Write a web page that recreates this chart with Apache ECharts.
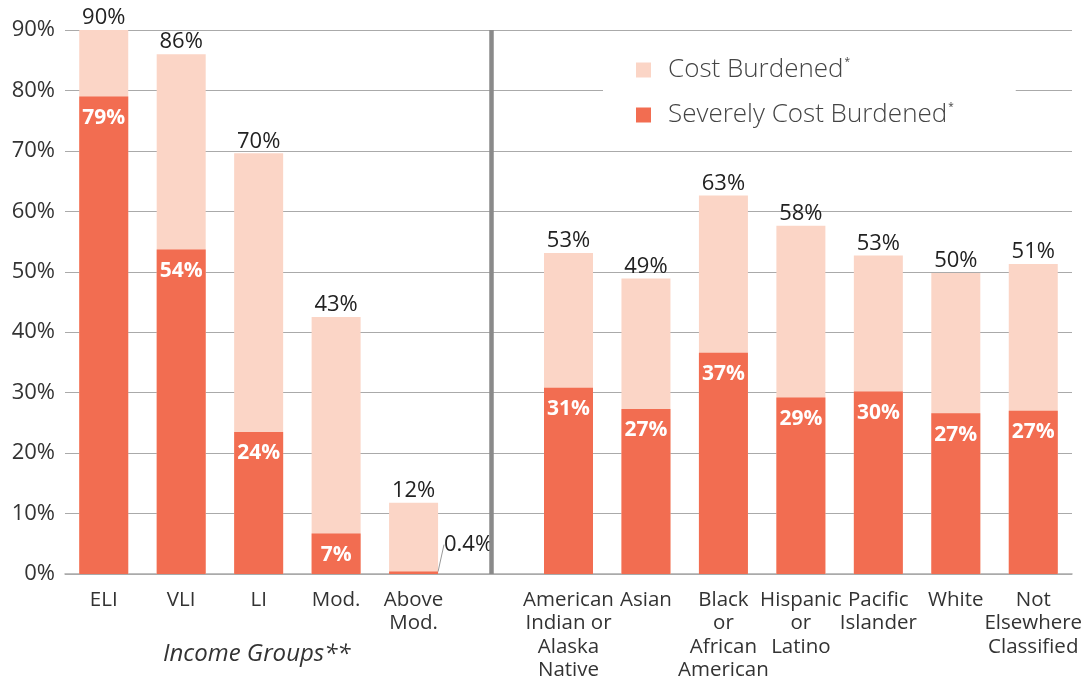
<!DOCTYPE html>
<html><head><meta charset="utf-8">
<script src="https://cdn.jsdelivr.net/npm/echarts@6/dist/echarts.min.js"></script>
<style>html,body{margin:0;padding:0;background:#fff}#c{width:1086px;height:682px}</style>
</head><body><div id="c"></div>
<script>
const categories = ['ELI','VLI','LI','Mod.','Above\nMod.','','American\nIndian or\nAlaska\nNative','Asian','Black\nor\nAfrican\nAmerican','Hispanic\nor\nLatino','Pacific\nIslander','White','Not\nElsewhere\nClassified'];
const costBurdened = [90, 86, 69.6, 42.5, 11.8, null, 53.1, 48.9, 62.6, 57.6, 52.7, 49.8, 51.3];
const severelyBurdened = [79, 53.7, 23.5, 6.7, 0.4, null, 30.8, 27.3, 36.6, 29.2, 30.2, 26.6, 27.0];
const yTicks = [0, 10, 20, 30, 40, 50, 60, 70, 80, 90];
const separatorIndex = 5;

const FONT = 'Open Sans';
const fmt = v => (v < 1 ? v.toFixed(1) : Math.round(v)) + '%';

const severeData = severelyBurdened.map((v, i) => i === 4
  ? {value: v, label: {position: 'top', color: '#222', fontWeight: 'normal', fontSize: 22, distance: 2}}
  : v);

const chart = echarts.init(document.getElementById('c'), null, {renderer: 'canvas'});
chart.setOption({
  animation: false,
  textStyle: {fontFamily: FONT},
  grid: {left: 65, right: 14, top: 30, bottom: 103, containLabel: false},
  title: {
    text: 'Income Groups**', left: 163, top: 642, padding: 0,
    textStyle: {fontFamily: FONT, fontStyle: 'italic', fontWeight: 'normal', fontSize: 24, color: '#333'}
  },
  legend: {
    orient: 'vertical', left: 603, top: 49,
    backgroundColor: '#fff', padding: [8, 62, 8, 33], itemGap: 19,
    itemWidth: 15, itemHeight: 15, icon: 'rect',
    data: ['Cost Burdened', 'Severely Cost Burdened'],
    formatter: n => '{a|' + n + '}{s|*}',
    textStyle: {
      padding: [0, 0, 0, 12],
      rich: {
        a: {fontFamily: FONT, fontSize: 26, color: '#444', fontWeight: 300},
        s: {fontFamily: FONT, fontSize: 10, color: '#444', padding: [0, 0, 16, 1]}
      }
    }
  },
  xAxis: {
    type: 'category', data: categories,
    axisTick: {show: false},
    axisLine: {lineStyle: {color: '#aaa', width: 1.5}},
    axisLabel: {interval: 0, fontSize: 20.5, color: '#333', lineHeight: 23.5, margin: 14, fontFamily: FONT}
  },
  yAxis: {
    type: 'value', min: yTicks[0], max: yTicks[yTicks.length - 1], interval: 10,
    axisLabel: {formatter: '{value}%', fontSize: 22, color: '#333', margin: 10, fontFamily: FONT},
    splitLine: {lineStyle: {color: '#aaa', width: 1.2}},
    axisLine: {show: false}, axisTick: {show: false}
  },
  series: [
    {
      name: 'Cost Burdened', type: 'bar', data: costBurdened, barWidth: 49, barGap: '-100%',
      itemStyle: {color: '#FBD5C6'},
      label: {show: true, position: 'top', distance: 1, fontSize: 22, color: '#222', fontFamily: FONT,
        formatter: p => fmt(p.value)},
      markLine: {
        silent: true, symbol: 'none', label: {show: false},
        lineStyle: {color: '#8a8a8a', width: 4.5, type: 'solid'},
        data: [{xAxis: separatorIndex}]
      },
      z: 2
    },
    {
      name: 'Severely Cost Burdened', type: 'bar', data: severeData, barWidth: 49,
      itemStyle: {color: '#F26D51'},
      label: {show: true, position: 'insideTop', distance: 11, fontSize: 21, fontWeight: 'bold', color: '#fff', fontFamily: FONT,
        formatter: p => fmt(p.value)},
      labelLayout: p => (p.dataIndex === 4 ? {dx: 55, dy: -14} : {}),
      labelLine: {show: true, lineStyle: {color: '#999', width: 1}},
      z: 3
    }
  ]
});
</script>
</body></html>
